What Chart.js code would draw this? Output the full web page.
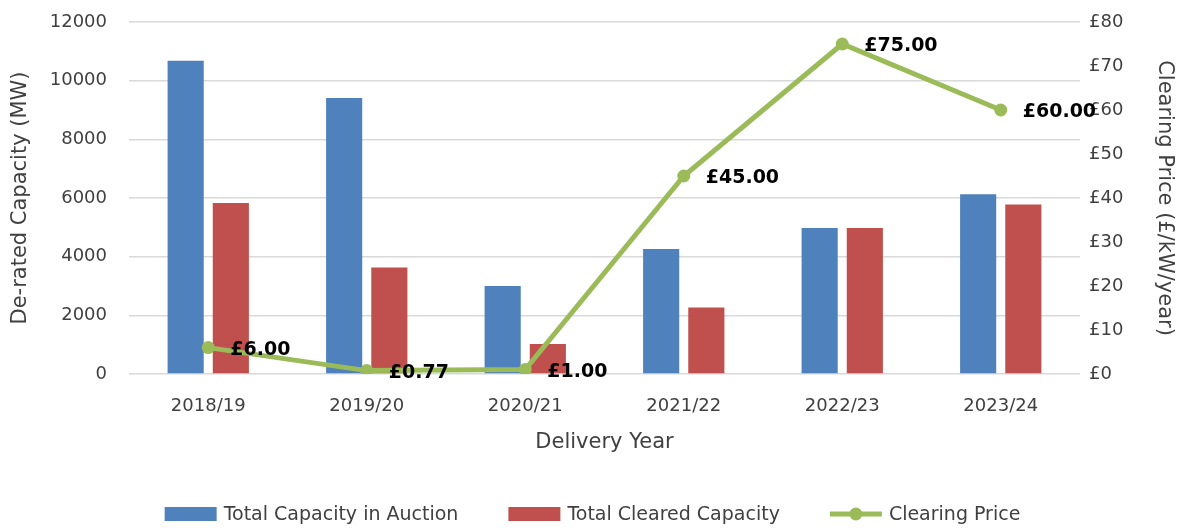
<!DOCTYPE html>
<html>
<head>
<meta charset="utf-8">
<script src="https://cdn.jsdelivr.net/npm/chart.js@4/dist/chart.umd.min.js"></script>
<style>
    html, body { margin: 0; padding: 0; background: #fff; }
    #wrap { width: 1185px; height: 528px; }
</style>
</head>
<body>
<div id="wrap"><canvas id="myChart" width="1185" height="528"></canvas></div>
<script>
const years = ['2018/19', '2019/20', '2020/21', '2021/22', '2022/23', '2023/24'];
const auctionCapacity = [10680, 9410, 3000, 4260, 4980, 6130];
const clearedCapacity = [5830, 3630, 1020, 2270, 4980, 5780];
const clearingPrice = [6.00, 0.77, 1.00, 45.00, 75.00, 60.00];
const capacityTicks = [0, 2000, 4000, 6000, 8000, 10000, 12000];
const priceTicks = [0, 10, 20, 30, 40, 50, 60, 70, 80];

const BLUE = '#4F81BD', RED = '#C0504D', GREEN = '#9BBB59';
const FONT = 'DejaVu Sans';
const TXT = '#404040';

// price labels to the right of each point
const priceLabels = {
    id: 'priceLabels',
    afterDatasetsDraw(chart) {
        var meta = chart.getDatasetMeta(2);
        var ctx = chart.ctx;
        ctx.save();
        ctx.font = 'bold 19px ' + FONT;
        ctx.fillStyle = '#000';
        ctx.textAlign = 'left';
        ctx.textBaseline = 'middle';
        meta.data.forEach((pt, i) => {
            ctx.fillText('£' + clearingPrice[i].toFixed(2), pt.x + 22, pt.y + 2);
        });
        ctx.restore();
    }
};

// legend row along the bottom, drawn by hand so the line swatch gets its marker
const bottomLegend = {
    id: 'bottomLegend',
    afterDraw(chart) {
        var ctx = chart.ctx;
        var items = chart.data.datasets.map(d => ({ text: d.label, color: d.backgroundColor, line: d.type === 'line' }));
        var boxW = 52, boxH = 14, gap = 7, spacing = 50, y = 514;
        ctx.save();
        ctx.font = '19px ' + FONT;
        var total = 0;
        items.forEach((it, i) => {
            it.w = boxW + gap + ctx.measureText(it.text).width;
            total += it.w + (i ? spacing : 0);
        });
        var x = (chart.width - total) / 2;
        items.forEach(it => {
            if (it.line) {
                ctx.strokeStyle = it.color;
                ctx.lineWidth = 5;
                ctx.beginPath(); ctx.moveTo(x, y); ctx.lineTo(x + boxW, y); ctx.stroke();
                ctx.fillStyle = it.color;
                ctx.beginPath(); ctx.arc(x + boxW / 2, y, 6.5, 0, Math.PI * 2); ctx.fill();
            } else {
                ctx.fillStyle = it.color;
                ctx.fillRect(x, y - boxH / 2, boxW, boxH);
            }
            ctx.fillStyle = TXT;
            ctx.textAlign = 'left';
            ctx.textBaseline = 'middle';
            ctx.fillText(it.text, x + boxW + gap, y + 1);
            x += it.w + spacing;
        });
        ctx.restore();
    }
};

// keep the plot area edges fixed instead of padding for tick label overhang
function noOverhang(s) {
    s.paddingTop = 0;
    s.paddingBottom = 0;
}

const ctx = document.getElementById('myChart').getContext('2d');
const myChartObj = new Chart(ctx, {
    type: 'bar',
    data: {
        labels: years,
        datasets: [{
            label: 'Total Capacity in Auction',
            data: auctionCapacity,
            backgroundColor: BLUE,
            yAxisID: 'y',
            order: 1,
            categoryPercentage: 0.57,
            barPercentage: 0.8
        }, {
            label: 'Total Cleared Capacity',
            data: clearedCapacity,
            backgroundColor: RED,
            yAxisID: 'y',
            order: 1,
            categoryPercentage: 0.57,
            barPercentage: 0.8
        }, {
            type: 'line',
            label: 'Clearing Price',
            data: clearingPrice,
            borderColor: GREEN,
            backgroundColor: GREEN,
            borderWidth: 5,
            pointRadius: 6.5,
            pointHoverRadius: 6.5,
            pointBorderWidth: 0,
            yAxisID: 'y1',
            order: 0,
            tension: 0
        }]
    },
    options: {
        responsive: false,
        animation: false,
        layout: { padding: { top: 22, bottom: 67 } },
        plugins: {
            tooltip: { enabled: false },
            legend: { display: false }
        },
        scales: {
            x: {
                grid: { display: false, drawTicks: false },
                border: { display: false },
                ticks: { color: TXT, font: { family: FONT, size: 18 }, padding: 22 },
                title: {
                    display: true, text: 'Delivery Year', color: TXT,
                    font: { family: FONT, size: 21 }, padding: { top: 0, bottom: 6 }
                },
                afterFit(s) { s.height = 87; }
            },
            y: {
                position: 'left',
                min: 0, max: 12000,
                afterBuildTicks(s) { s.ticks = capacityTicks.map(v => ({ value: v })); },
                grid: { color: '#d9d9d9', lineWidth: 1.5, drawTicks: false },
                border: { display: false },
                ticks: {
                    color: TXT, font: { family: FONT, size: 18 }, padding: 22,
                    callback: v => String(v)
                },
                title: {
                    display: true, text: 'De-rated Capacity (MW)', color: TXT,
                    font: { family: FONT, size: 21 }, padding: { top: 8, bottom: 0 }
                },
                afterFit(s) { s.width = 129; noOverhang(s); }
            },
            y1: {
                position: 'right',
                min: 0, max: 80,
                afterBuildTicks(s) { s.ticks = priceTicks.map(v => ({ value: v })); },
                grid: { display: false, drawTicks: false },
                border: { display: false },
                ticks: {
                    color: TXT, font: { family: FONT, size: 18 }, padding: 9,
                    callback: v => '£' + v
                },
                title: {
                    display: true, text: 'Clearing Price (£/kW/year)', color: TXT,
                    font: { family: FONT, size: 21 }, padding: { top: 8, bottom: 0 }
                },
                afterFit(s) { s.width = 105; noOverhang(s); }
            }
        }
    },
    plugins: [priceLabels, bottomLegend]
});
</script>
</body>
</html>
